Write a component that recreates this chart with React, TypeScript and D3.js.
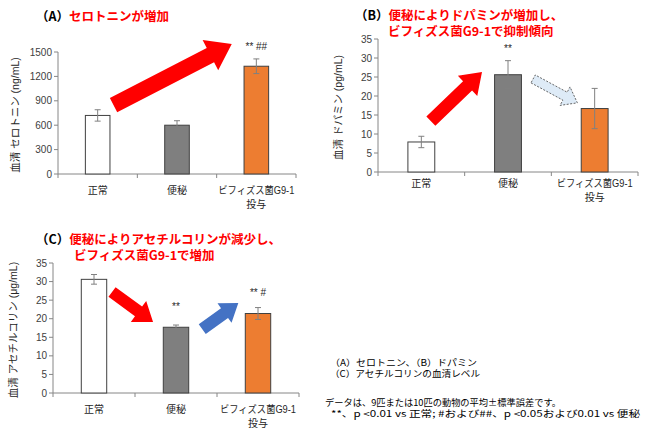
import React from 'react';
import * as d3 from 'd3';

// categories shared by all three panels
const categories = ['正常', '便秘', 'ビフィズス菌G9-1\n投与'];
const barColors = ['#FFFFFF', '#7F7F7F', '#ED7D31'];

// (A) serotonin ng/mL
const serotoninMean = [720, 600, 1325];
const serotoninErr = [70, 55, 90];
const serotoninTicks = [0, 300, 600, 900, 1200, 1500];
const serotoninSig = ['', '', '** ##'];

// (B) dopamine pg/mL
const dopamineMean = [7.9, 25.6, 16.7];
const dopamineErr = [1.5, 3.7, 5.3];
const dopamineTicks = [0, 5, 10, 15, 20, 25, 30, 35];
const dopamineSig = ['', '**', ''];

// (C) acetylcholine ug/mL
const achMean = [30.6, 17.7, 21.4];
const achErr = [1.3, 0.6, 1.6];
const achTicks = [0, 5, 10, 15, 20, 25, 30, 35];
const achSig = ['', '**', '** #'];

const FONT = "'Liberation Sans', Arial, 'Noto Sans CJK JP', sans-serif";
const JP = "'Noto Sans CJK JP', sans-serif";

type Arrow = {
  from: [number, number]; // [category index, value]
  to: [number, number];
  shaft: number;
  head: number;
  headLen: number;
  fill: string;
  dashed?: boolean;
};

type PanelProps = {
  x0: number; x1: number; yTop: number; yBottom: number;
  means: number[]; errs: number[]; ticks: number[]; sig: string[];
  sigY: number[];
  yLabel: string; yLabelX: number;
  catY: number;
  arrows: Arrow[];
};

function arrowPath(x0: number, y0: number, x1: number, y1: number, sw: number, hw: number, hl: number) {
  const dx = x1 - x0, dy = y1 - y0;
  const len = Math.hypot(dx, dy);
  const ux = dx / len, uy = dy / len;
  const nx = -uy, ny = ux;
  const bx = x1 - ux * hl, by = y1 - uy * hl;
  const pts = [
    [x0 + nx * sw / 2, y0 + ny * sw / 2],
    [bx + nx * sw / 2, by + ny * sw / 2],
    [bx + nx * hw / 2, by + ny * hw / 2],
    [x1, y1],
    [bx - nx * hw / 2, by - ny * hw / 2],
    [bx - nx * sw / 2, by - ny * sw / 2],
    [x0 - nx * sw / 2, y0 - ny * sw / 2],
  ];
  return d3.line()(pts as [number, number][]) + 'Z';
}

const Panel = (p: PanelProps) => {
  const x = d3.scaleBand<number>().domain([0, 1, 2]).range([p.x0, p.x1]).paddingInner(0.69).paddingOuter(0.345);
  const y = d3.scaleLinear().domain([0, p.ticks[p.ticks.length - 1]]).range([p.yBottom, p.yTop]);
  const step = x.step();
  const cx = (i: number) => (x(0) as number) + x.bandwidth() / 2 + i * step;
  const axisColor = '#868686';
  return (
    <g>
      {/* y axis */}
      <line x1={p.x0} x2={p.x0} y1={y(0)} y2={p.yTop} stroke={axisColor} />
      {p.ticks.map(t => (
        <g key={t}>
          <line x1={p.x0 - 4} x2={p.x0} y1={y(t)} y2={y(t)} stroke={axisColor} />
          <text x={p.x0 - 6} y={y(t)} dy="0.35em" textAnchor="end" fontSize={10} fill="#404040" fontFamily={FONT}>{t}</text>
        </g>
      ))}
      <text transform={`translate(${p.yLabelX},${(p.yTop + p.yBottom) / 2 + 2}) rotate(-90)`} textAnchor="middle" dy="0.35em" fontSize={10.5} fill="#262626" fontFamily={FONT}>{p.yLabel}</text>
      {/* x axis */}
      <line x1={p.x0} x2={p.x1} y1={y(0)} y2={y(0)} stroke={axisColor} />
      {[0, 1, 2, 3].map(i => (
        <line key={i} x1={p.x0 + i * step} x2={p.x0 + i * step} y1={y(0)} y2={y(0) + 4} stroke={axisColor} />
      ))}
      {/* bars */}
      {p.means.map((m, i) => (
        <g key={i}>
          <rect x={x(i)} y={y(m)} width={x.bandwidth()} height={y(0) - y(m)} fill={barColors[i]} stroke="#404040" strokeWidth={1} />
          <line x1={cx(i)} x2={cx(i)} y1={y(m + p.errs[i])} y2={y(m - p.errs[i])} stroke="#808080" />
          <line x1={cx(i) - 3} x2={cx(i) + 3} y1={y(m + p.errs[i])} y2={y(m + p.errs[i])} stroke="#808080" />
          <line x1={cx(i) - 3} x2={cx(i) + 3} y1={y(m - p.errs[i])} y2={y(m - p.errs[i])} stroke="#808080" />
          {p.sig[i] && (
            <text x={cx(i)} y={p.sigY[i]} textAnchor="middle" fontSize={10} fill="#262626" fontFamily={FONT}>{p.sig[i]}</text>
          )}
          {categories[i].split('\n').map((line, j) => (
            <text key={j} x={cx(i)} y={p.catY + j * 14} textAnchor="middle" fontSize={10} fill="#262626" fontFamily={FONT}
              textLength={line.length > 4 ? 76 : undefined} lengthAdjust="spacingAndGlyphs">{line}</text>
          ))}
        </g>
      ))}
      {/* annotation arrows */}
      {p.arrows.map((a, k) => (
        <path key={k}
          d={arrowPath(cx(a.from[0]), y(a.from[1]), cx(a.to[0]), y(a.to[1]), a.shaft, a.head, a.headLen)}
          fill={a.fill}
          stroke={a.dashed ? '#404040' : 'none'}
          strokeWidth={a.dashed ? 0.8 : 0}
          strokeDasharray={a.dashed ? '2,1.5' : undefined} />
      ))}
    </g>
  );
};

const App = () => {
  return (
    <svg width={650} height={434} style={{ position: 'absolute', left: 0, top: 0, background: '#fff' }}>
      {/* titles */}
      <g fontSize={12.5} fontWeight="bold" fontFamily={JP}>
        <text x={36} y={21} fill="#000">（A）<tspan fill="#FF0000">セロトニンが増加</tspan></text>
        <text x={355} y={20} fill="#000">（B）<tspan fill="#FF0000">便秘によりドパミンが増加し、</tspan></text>
        <text x={388} y={36} fill="#FF0000">ビフィズス菌G9-1で抑制傾向</text>
        <text x={36} y={244} fill="#000">（C）<tspan fill="#FF0000">便秘によりアセチルコリンが減少し、</tspan></text>
        <text x={74} y={260} fill="#FF0000">ビフィズス菌G9-1で増加</text>
      </g>

      <Panel x0={58} x1={296} yTop={52} yBottom={174}
        means={serotoninMean} errs={serotoninErr} ticks={serotoninTicks} sig={serotoninSig}
        sigY={[0, 0, 50]} yLabel="血清 セロトニン (ng/mL)" yLabelX={15} catY={194}
        arrows={[{ from: [0.2, 848], to: [1.69, 1598], shaft: 16, head: 34, headLen: 24, fill: '#FF0000' }]} />

      <Panel x0={378} x1={638} yTop={39} yBottom={172}
        means={dopamineMean} errs={dopamineErr} ticks={dopamineTicks} sig={dopamineSig}
        sigY={[0, 52, 0]} yLabel="血清 ドパミン (pg/mL)" yLabelX={338} catY={187}
        arrows={[
          { from: [0.11, 13.4], to: [0.70, 26.3], shaft: 13, head: 28, headLen: 20, fill: '#FF0000' },
          { from: [1.29, 24.5], to: [1.80, 18.2], shaft: 9, head: 21, headLen: 14, fill: '#DEEBF7', dashed: true },
        ]} />

      <Panel x0={53} x1={299} yTop={263} yBottom={393}
        means={achMean} errs={achErr} ticks={achTicks} sig={achSig}
        sigY={[0, 310, 296]} yLabel="血清 アセチルコリン (μg/mL)" yLabelX={13} catY={413}
        arrows={[
          { from: [0.22, 27.2], to: [0.72, 19.1], shaft: 12, head: 26, headLen: 18, fill: '#FF0000' },
          { from: [1.32, 17.2], to: [1.76, 24.2], shaft: 12, head: 24, headLen: 17, fill: '#4472C4' },
        ]} />

      {/* notes */}
      <g fontFamily={JP} fontSize={9} fill="#000">
        <text x={330} y={366} textLength={147} lengthAdjust="spacingAndGlyphs">（A）セロトニン、（B）ドパミン</text>
        <text x={330} y={377} textLength={150} lengthAdjust="spacingAndGlyphs">（C）アセチルコリンの血清レベル</text>
        <text x={325} y={406} textLength={236} lengthAdjust="spacingAndGlyphs">データは、9匹または10匹の動物の平均±標準誤差です。</text>
        <text x={331} y={417} textLength={309} lengthAdjust="spacingAndGlyphs">**、p &lt;0.01 vs 正常; #および##、p &lt;0.05および0.01 vs 便秘</text>
      </g>
    </svg>
  );
};

export default App;
